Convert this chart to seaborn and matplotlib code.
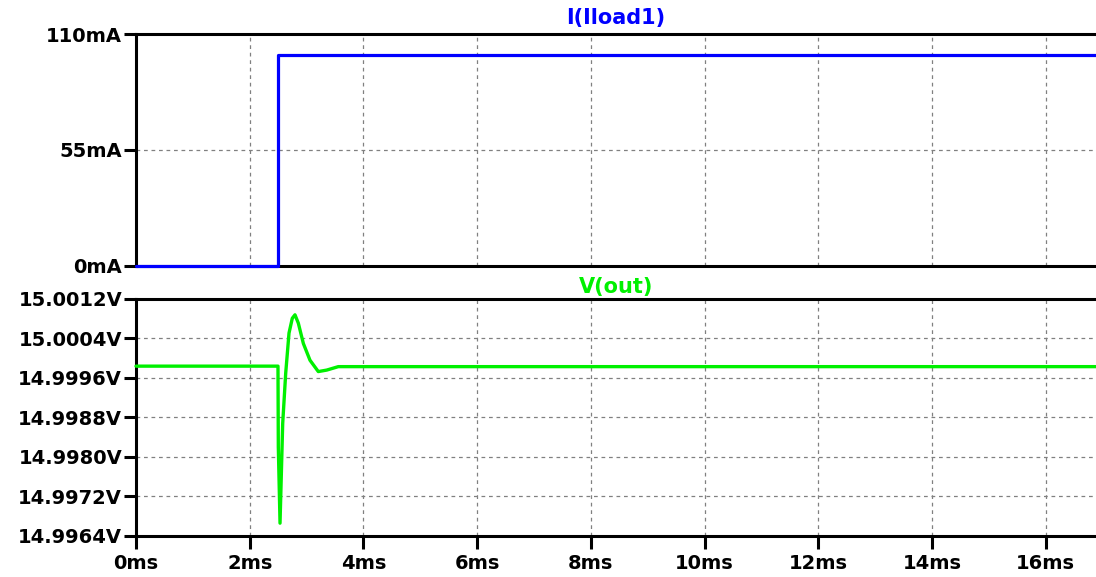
import matplotlib
matplotlib.use("Agg")
import matplotlib.pyplot as plt
import seaborn as sns
import pandas as pd

# Transient simulation traces
time_iload_ms = [0.0, 2.5, 2.5, 17.0]
iload_ma = [0.0, 0.0, 100.0, 100.0]

time_vout_ms = [0.0, 2.497, 2.503, 2.533, 2.580, 2.633, 2.691, 2.749, 2.796,
                2.855, 2.943, 3.060, 3.206, 3.354, 3.558, 17.0]
vout_v = [14.99983, 14.99983, 14.99819, 14.99665, 14.99867, 14.99969, 15.00050,
          15.00080, 15.00087, 15.00070, 15.00029, 14.99995, 14.99972, 14.99975,
          14.99982, 14.99982]

x_ticks = [0, 2, 4, 6, 8, 10, 12, 14, 16]
x_tick_labels = ["0ms", "2ms", "4ms", "6ms", "8ms", "10ms", "12ms", "14ms", "16ms"]
i_ticks = [0, 55, 110]
i_tick_labels = ["0mA", "55mA", "110mA"]
v_ticks = [14.9964, 14.9972, 14.9980, 14.9988, 14.9996, 15.0004, 15.0012]
v_tick_labels = ["14.9964V", "14.9972V", "14.9980V", "14.9988V", "14.9996V",
                 "15.0004V", "15.0012V"]

sns.set_theme(style="white")
plt.rcParams["font.family"] = ["DejaVu Sans"]

W, H = 1096, 577
fig = plt.figure(figsize=(W / 100, H / 100), dpi=100)
left = 136 / W
width = (W - 136) / W
ax_i = fig.add_axes([left, 1 - 265.5 / H, width, (265.5 - 34) / H])
ax_v = fig.add_axes([left, 1 - 535.5 / H, width, (535.5 - 298.5) / H])

df_i = pd.DataFrame({"t": time_iload_ms, "i": iload_ma})
df_v = pd.DataFrame({"t": time_vout_ms, "v": vout_v})

sns.lineplot(data=df_i, x="t", y="i", ax=ax_i, color="#0000ff", lw=2.3,
             sort=False, estimator=None, clip_on=False, zorder=3)
sns.lineplot(data=df_v, x="t", y="v", ax=ax_v, color="#00f000", lw=2.4,
             sort=False, estimator=None, clip_on=False, zorder=3)

x_max = (W - 136) / 56.86

for ax in (ax_i, ax_v):
    ax.set_xlim(0, x_max)
    ax.set_xlabel("")
    ax.set_ylabel("")
    ax.set_facecolor("white")
    for side in ("left", "top", "bottom"):
        ax.spines[side].set_visible(True)
        ax.spines[side].set_color("black")
        ax.spines[side].set_linewidth(2.2)
    ax.spines["right"].set_visible(False)
    ax.grid(True, color="#808080", linestyle=(0, (3, 3)), linewidth=0.9)
    ax.set_xticks(x_ticks)
    ax.tick_params(axis="both", which="major", direction="out", length=9,
                   width=2.2, color="black", labelcolor="black", labelsize=14,
                   pad=1, left=True, bottom=True)

ax_i.set_ylim(0, 110)
ax_i.set_yticks(i_ticks)
ax_i.set_yticklabels(i_tick_labels, fontweight="bold")
ax_i.tick_params(axis="x", bottom=False, labelbottom=False)

ax_v.set_ylim(14.9964, 15.0012)
ax_v.set_yticks(v_ticks)
ax_v.set_yticklabels(v_tick_labels, fontweight="bold")
ax_v.set_xticklabels(x_tick_labels, fontweight="bold")
ax_v.tick_params(axis="x", pad=4)

ax_i.set_title("I(Iload1)", color="#0000ff", fontweight="bold", fontsize=15, pad=7)
ax_v.set_title("V(out)", color="#00f000", fontweight="bold", fontsize=15, pad=4)

fig.savefig("out.png", dpi=100, facecolor="white")
